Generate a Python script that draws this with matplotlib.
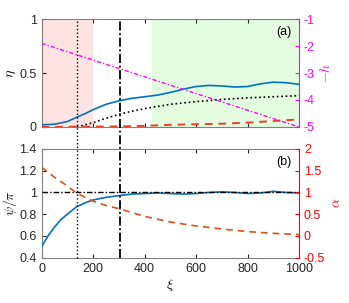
import matplotlib
matplotlib.use("Agg")
import matplotlib.pyplot as plt
from matplotlib.transforms import blended_transform_factory
from matplotlib.lines import Line2D

plt.rcParams['font.family'] = ['Liberation Sans', 'DejaVu Sans']
plt.rcParams['mathtext.fontset'] = 'cm'

# ---- panel (a) data ----
xi_eta = [0, 50, 100, 137, 175, 200, 250, 305, 350, 400, 450, 500, 550, 600,
          650, 700, 750, 800, 850, 900, 950, 1000]
eta_blue = [0.02, 0.025, 0.05, 0.09, 0.13, 0.16, 0.21, 0.245, 0.265, 0.28, 0.295,
            0.32, 0.35, 0.375, 0.385, 0.38, 0.37, 0.375, 0.40, 0.415, 0.41, 0.395]
xi_dot = [137, 200, 250, 305, 350, 400, 450, 500, 600, 700, 800, 900, 1000]
eta_dot = [0.0, 0.04, 0.08, 0.12, 0.145, 0.17, 0.19, 0.21, 0.235, 0.255, 0.27, 0.28, 0.29]
xi_red = [0, 300, 400, 500, 600, 700, 800, 900, 1000]
eta_red = [0.0, 0.005, 0.01, 0.02, 0.025, 0.03, 0.04, 0.055, 0.07]
xi_h = [0, 1000]
minus_h = [-1.9, -5.0]

# ---- panel (b) data ----
xi_psi = [0, 25, 50, 75, 100, 137, 175, 200, 250, 305, 350, 400, 450, 500, 550,
          600, 650, 700, 750, 800, 850, 900, 950, 1000]
psi_pi = [0.50, 0.60, 0.68, 0.75, 0.80, 0.87, 0.91, 0.93, 0.955, 0.972, 0.985, 0.99,
          0.995, 0.99, 0.985, 0.99, 1.0, 1.005, 1.0, 0.99, 0.995, 1.01, 1.0, 0.995]
xi_alpha = [0, 50, 100, 137, 200, 250, 305, 400, 500, 600, 700, 800, 900, 1000]
alpha = [1.58, 1.35, 1.15, 0.98, 0.80, 0.70, 0.62, 0.45, 0.32, 0.23, 0.16, 0.10, 0.06, 0.03]

xi_pink = (0, 200)
xi_green = (430, 1000)
xi_vdot = 137
xi_vdash = 305

blue = '#0072BD'
orange = '#D95319'
red_top = '#E8402A'
mag = '#FF00FF'
axc = '#262626'

fig = plt.figure(figsize=(3.49, 3.03), dpi=100)
ax1 = fig.add_axes([0.119, 0.581, 0.738, 0.356])
ax2 = fig.add_axes([0.119, 0.1495, 0.738, 0.359])

fs = 9

# panel a
ax1.axvspan(*xi_pink, color='#FFE3E3', lw=0, zorder=0)
ax1.axvspan(*xi_green, color='#E3FCE0', lw=0, zorder=0)
ax1.plot(xi_eta, eta_blue, color=blue, lw=1.2, zorder=3)
ax1.plot(xi_dot, eta_dot, color='k', ls=':', lw=1.2, zorder=3)
ax1.plot(xi_red, eta_red, color=red_top, lw=1.4, zorder=3, dashes=(4, 3))
ax1.set_xlim(0, 1000)
ax1.set_ylim(0, 1)
ax1.set_yticks([0, 0.5, 1])
ax1.set_yticklabels(['0', '0.5', '1'])
ax1.set_xticks([0, 200, 400, 600, 800, 1000])
ax1.set_xticklabels([])
ax1.set_ylabel(r'$\eta$', fontsize=10, labelpad=1)
ax1.text(0.97, 0.88, '(a)', transform=ax1.transAxes, ha='right', va='center', fontsize=fs)

ax1r = ax1.twinx()
ax1r.plot(xi_h, minus_h, color=mag, lw=1.0, dashes=(3, 1.5, 1, 1.5))
ax1r.set_ylim(-5, -1)
ax1r.set_yticks([-5, -4, -3, -2, -1])
ax1r.set_yticklabels(['-5', '-4', '-3', '-2', '-1'])
ax1r.set_ylabel(r'$-h$', color=mag, fontsize=10, labelpad=3)
ax1r.tick_params(axis='y', colors=mag, direction='in', labelsize=fs, length=3)
for s in ['left', 'top', 'bottom']:
    ax1r.spines[s].set_visible(False)
ax1r.spines['right'].set_color(mag)

# panel b
ax2.plot(xi_psi, psi_pi, color=blue, lw=1.2, zorder=3)
ax2.axhline(1.0, color='k', lw=1.0, zorder=4, dashes=(4, 1.5, 1, 1.5))
ax2.set_xlim(0, 1000)
ax2.set_ylim(0.4, 1.4)
ax2.set_yticks([0.4, 0.6, 0.8, 1.0, 1.2, 1.4])
ax2.set_yticklabels(['0.4', '0.6', '0.8', '1', '1.2', '1.4'])
ax2.set_xticks([0, 200, 400, 600, 800, 1000])
ax2.set_xlabel(r'$\xi$', fontsize=10, labelpad=2)
ax2.set_ylabel(r'$\psi/\pi$', fontsize=10, labelpad=0)
ax2.text(0.97, 0.88, '(b)', transform=ax2.transAxes, ha='right', va='center', fontsize=fs)

ax2r = ax2.twinx()
ax2r.plot(xi_alpha, alpha, color=orange, lw=1.2, dashes=(4, 3))
ax2r.set_ylim(-0.5, 2)
ax2r.set_yticks([-0.5, 0, 0.5, 1, 1.5, 2])
ax2r.set_yticklabels(['-0.5', '0', '0.5', '1', '1.5', '2'])
ax2r.set_ylabel(r'$\alpha$', color='#FF0000', fontsize=10, labelpad=3)
ax2r.tick_params(axis='y', colors='#FF0000', direction='in', labelsize=fs, length=3)
for s in ['left', 'top', 'bottom']:
    ax2r.spines[s].set_visible(False)
ax2r.spines['right'].set_color('#FF0000')

for ax in (ax1, ax2):
    ax.tick_params(direction='in', labelsize=fs, length=3, top=True, colors=axc)
    for s in ['left', 'top', 'bottom']:
        ax.spines[s].set_color('#808080')
    ax.spines['right'].set_visible(False)

# vertical lines spanning both panels
top_y = 0.581 + 0.356
bot_y = 0.1495
tr = blended_transform_factory(ax2.transData, fig.transFigure)
fig.add_artist(Line2D([xi_vdot, xi_vdot], [bot_y, top_y], transform=tr, color='k', ls=':', lw=1.0))
fig.add_artist(Line2D([xi_vdash, xi_vdash], [bot_y, top_y], transform=tr, color='k', lw=1.3,
                      dashes=(5, 1.5, 1, 1.5)))

fig.savefig('out.png', dpi=100)
